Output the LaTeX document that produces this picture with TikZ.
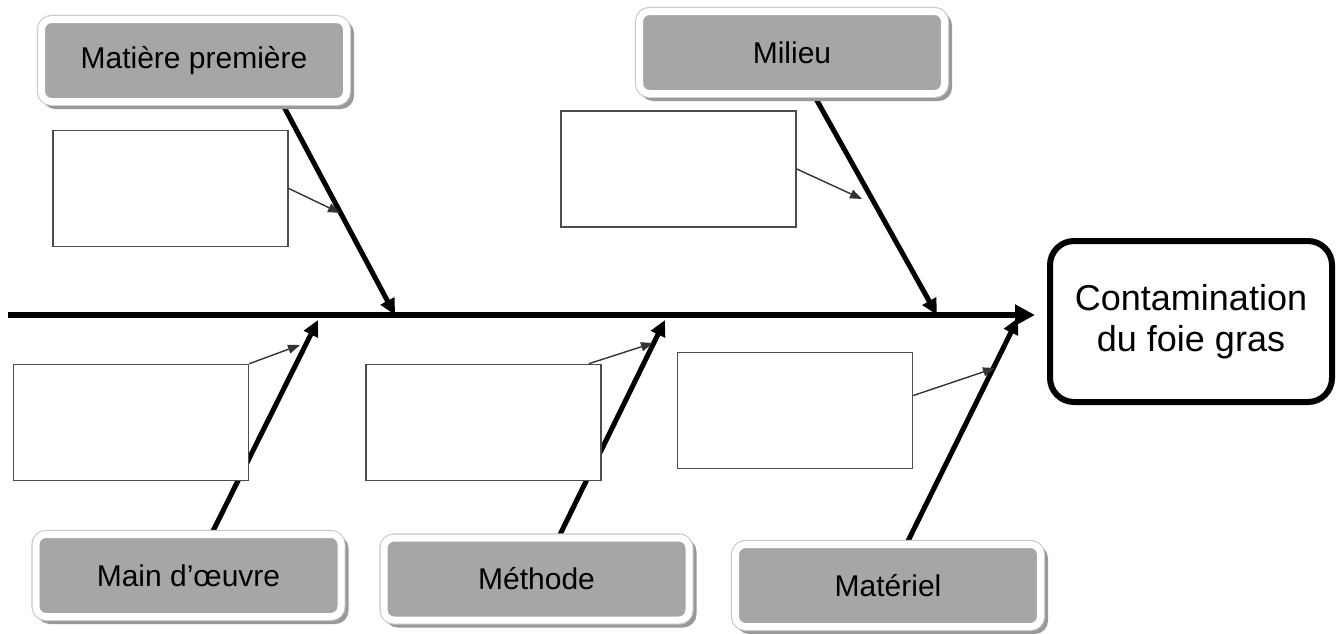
\documentclass[tikz,border=0pt]{standalone}
\usepackage{fontspec}
\setmainfont{Liberation Sans}
\usepackage{tikz}
\usetikzlibrary{positioning, arrows.meta, calc, shadows}
\pgfdeclarelayer{background}
\pgfsetlayers{background,main}
\tikzset{
    cause/.style={rounded corners=5pt, fill=black!35, draw=white, line width=3.5pt,
      minimum width=152.5pt, minimum height=41pt, inner sep=0pt,
      font=\fontsize{15}{18}\selectfont,
      general shadow={shadow xshift=2pt, shadow yshift=-2pt, draw=black!40, fill=black!40, line width=3.5pt},
      preaction={draw=black!22, line width=4.6pt}},
    vide/.style={draw=black!70, line width=0.8pt, fill=white,
      minimum width=117.5pt, minimum height=58pt, inner sep=0pt},
    effet/.style={draw, line width=3pt, rounded corners=12pt, minimum width=141pt,
      minimum height=80.5pt, align=center, font=\fontsize{18}{20.5}\selectfont},
    spine/.style={line width=3pt, -{Triangle[length=10pt,width=10pt]}},
    bone/.style={line width=2.5pt, -{Triangle[length=8pt,width=7.5pt]}},
    twig/.style={line width=0.7pt, draw=black!80, -{Triangle[length=6pt,width=4.5pt]}},
}

\begin{document}
\begin{tikzpicture}[x=0.5pt, y=-0.5pt]
    \useasboundingbox (0,0) rectangle (1338,633);

    % causes
    \node[cause] (matiere) at (194,60.5) {Matière première};
    \node[cause] (milieu) at (792,52.5) {Milieu};
    \node[cause] (oeuvre) at (188.5,575.5) {Main d’œuvre};
    \node[cause] (methode) at (536.5,579) {Méthode};
    \node[cause] (materiel) at (888,585.5) {Matériel};

    % effect
    \node[effet] (contamination) at (1191,321.5) {Contamination\\du foie gras};

    % empty boxes
    \node[vide] (v-matiere) at (170.5,188.5) {};
    \node[vide] (v-milieu) at (678.5,169) {};
    \node[vide] (v-oeuvre) at (131,422.5) {};
    \node[vide] (v-methode) at (483.5,422.5) {};
    \node[vide] (v-materiel) at (795,410.5) {};

    % points on the spine
    \coordinate (queue) at (8,315);
    \coordinate (s-matiere) at (395,315);
    \coordinate (s-milieu) at (937,315);
    \coordinate (s-oeuvre) at (318,320);
    \coordinate (s-methode) at (665,320);
    \coordinate (s-materiel) at (1018,318);

    % points on the bones
    \coordinate (b-matiere) at (340,213);
    \coordinate (b-milieu) at (862,199);
    \coordinate (b-oeuvre) at (300,345);
    \coordinate (b-methode) at (653,343);
    \coordinate (b-materiel) at (995,368);

    \begin{pgfonlayer}{background}
      \draw[spine, shorten >=6pt] (queue) -- (queue -| contamination.west);
      \draw[bone] ([xshift=44.5pt]matiere.south) -- (s-matiere);
      \draw[bone] ([xshift=11.5pt]milieu.south) -- (s-milieu);
      \draw[bone] ([xshift=12.25pt]oeuvre.north) -- (s-oeuvre);
      \draw[bone] ([xshift=11.75pt]methode.north) -- (s-methode);
      \draw[bone] ([xshift=10pt]materiel.north) -- (s-materiel);
    \end{pgfonlayer}

    \draw[twig] (v-matiere.east) -- (b-matiere);
    \draw[twig] (v-milieu.east) -- (b-milieu);
    \draw[twig] (v-oeuvre.north east) -- (b-oeuvre);
    \draw[twig] ([xshift=-6.5pt]v-methode.north east) -- (b-methode);
    \draw[twig] ([yshift=7.5pt]v-materiel.east) -- (b-materiel);
  \end{tikzpicture}
\end{document}
